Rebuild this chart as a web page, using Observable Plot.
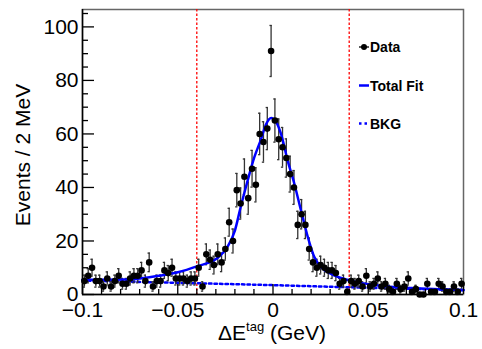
<!DOCTYPE html>
<html><head><meta charset="utf-8">
<script src="https://cdn.jsdelivr.net/npm/d3@7"></script>
<script src="https://cdn.jsdelivr.net/npm/@observablehq/plot@0.6"></script>
<style>body{margin:0;background:#fff} svg{display:block}</style>
</head><body><div id="chart"></div>
<script>
// Bin centres (2 MeV bins, GeV)
const binCenters = [
-0.099,-0.097,-0.095,-0.093,-0.091,-0.089,-0.087,-0.085,-0.083,-0.081,
-0.079,-0.077,-0.075,-0.073,-0.071,-0.069,-0.067,-0.065,-0.063,-0.061,
-0.059,-0.057,-0.055,-0.053,-0.051,-0.049,-0.047,-0.045,-0.043,-0.041,
-0.039,-0.037,-0.035,-0.033,-0.031,-0.029,-0.027,-0.025,-0.023,-0.021,
-0.019,-0.017,-0.015,-0.013,-0.011,-0.009,-0.007,-0.005,-0.003,-0.001,
0.001,0.003,0.005,0.007,0.009,0.011,0.013,0.015,0.017,0.019,
0.021,0.023,0.025,0.027,0.029,0.031,0.033,0.035,0.037,0.039,
0.041,0.043,0.045,0.047,0.049,0.051,0.053,0.055,0.057,0.059,
0.061,0.063,0.065,0.067,0.069,0.071,0.073,0.075,0.077,0.079,
0.081,0.083,0.085,0.087,0.089,0.091,0.093,0.095,0.097,0.099];
// Event counts per bin
const counts = [
5,7,10,5,5,3,6,3,5,7,
4,4,6,7,7,9,5,12,3,5,
5,9,8,10,6,6,6,5,6,6,
10,3,15,13,11,15,12,17,27,20,
39,34,44,36,47,41,60,57,62,91,
65,58,55,51,45,40,26,30,26,17,
12,10,11,10,9,9,8,4,5,1,
5,4,5,3,7,3,4,6,3,4,
2,1,4,2,3,6,1,2,0,0,
4,1,1,4,3,1,1,3,1,4];
// Total fit curve
const fitX = [-0.1,-0.0765,-0.059,-0.05,-0.04,-0.029,-0.024,-0.02,-0.017,-0.0133,-0.0098,-0.0063,-0.0037,-0.001,0.0016,0.0042,0.0077,0.0112,0.0147,0.0183,0.0217,0.0253,0.0305,0.0404,0.0551,0.0726,0.1];
const fitY = [5.5,5.6,7.1,8.3,10.5,13.7,17.7,23.9,32.6,42.6,51.3,58,63.5,66,64.5,60,50,41.4,31.4,21.4,14,10.2,7.7,5.2,3.4,2.4,1.7];
// Background curve
const bkgX = [-0.1,-0.04,0,0.04,0.1];
const bkgY = [5.2,4.2,3.5,2.7,1.6];
// Signal window
const windowX = [-0.04, 0.04];
// Tick values
const xMajor = [-0.1,-0.05,0,0.05,0.1];
const xMinor = [-0.09,-0.08,-0.07,-0.06,-0.04,-0.03,-0.02,-0.01,0.01,0.02,0.03,0.04,0.06,0.07,0.08,0.09];
const xLabels = ["\u22120.1","\u22120.05","0","0.05","0.1"];
const yMajor = [0,20,40,60,80,100];
const yMinor = [5,10,15,25,30,35,45,50,55,65,70,75,85,90,95,105];
// Legend entries
const legendLabels = ["Data","Total Fit","BKG"];

const data = binCenters.map((x,i)=>({x, n: counts[i], e: Math.sqrt(counts[i])}));
const fit = fitX.map((x,i)=>({x, y: fitY[i]}));
const bkg = bkgX.map((x,i)=>({x, y: bkgY[i]}));
const errs = data.filter(d=>d.n>0);

const font = "Liberation Sans, Arial, Helvetica, sans-serif";
const plot = Plot.plot({
  width: 482, height: 349,
  marginLeft: 82, marginRight: 19, marginTop: 9, marginBottom: 55,
  style: {fontFamily: font, background: "#fff"},
  x: {domain: [-0.1, 0.1], label: null},
  y: {domain: [0, 106.5], label: null},
  marks: [
    Plot.frame({stroke: "#666", strokeWidth: 1.5}),
    Plot.ruleX(windowX, {stroke: "#ff0000", strokeWidth: 1.3, strokeDasharray: "2.5,2"}),
    Plot.line(bkg, {x: "x", y: "y", stroke: "#0000ff", strokeWidth: 2.5, strokeDasharray: "2.5,3"}),
    Plot.ruleX(errs, {x: "x", y1: d=>d.n-d.e, y2: d=>d.n+d.e, stroke: "#333", strokeWidth: 1.3}),
    Plot.ruleY(errs, {y: d=>d.n+d.e, x1: d=>d.x-0.0006, x2: d=>d.x+0.0006, stroke: "#333", strokeWidth: 1.3}),
    Plot.ruleY(errs, {y: d=>d.n-d.e, x1: d=>d.x-0.0006, x2: d=>d.x+0.0006, stroke: "#333", strokeWidth: 1.3}),
    Plot.line(fit, {x: "x", y: "y", stroke: "#0000ff", strokeWidth: 2.5, curve: "monotone-x"}),
    Plot.dot(data, {x: "x", y: "n", r: 3.3, fill: "#000"}),
    Plot.axisY({ticks: yMajor, tickSize: -12, text: null, label: null, stroke: "#000", strokeWidth: 1.3}),
    Plot.axisY({ticks: yMinor, tickSize: -6, text: null, label: null, stroke: "#000", strokeWidth: 1.3}),
    Plot.axisY({ticks: yMajor, tickSize: 0, tickPadding: 4, fontSize: 21, fill: "#000", label: null}),
    Plot.axisX({ticks: xMajor, tickSize: -10, text: null, label: null, stroke: "#000", strokeWidth: 1.3}),
    Plot.axisX({ticks: xMinor, tickSize: -5, text: null, label: null, stroke: "#000", strokeWidth: 1.3}),
    Plot.axisX({ticks: xMajor, tickSize: 0, tickPadding: 8, fontSize: 21, fill: "#000", label: null, tickFormat: (d,i)=>xLabels[i]}),
    Plot.ruleY([0], {stroke: "#000", strokeWidth: 1.5}),
    Plot.ruleX([-0.1], {stroke: "#000", strokeWidth: 1.5})
  ]
});
const svg = d3.select(plot);
// Axis titles
svg.append("text").attr("transform","translate(30,155) rotate(-90)").attr("text-anchor","middle")
  .attr("font-family",font).attr("font-size",21).attr("fill","#000").text("Events / 2 MeV");
const xt = svg.append("text").attr("x",272).attr("y",340).attr("text-anchor","middle")
  .attr("font-family",font).attr("font-size",21).attr("fill","#000");
xt.append("tspan").text("\u0394E");
xt.append("tspan").attr("font-size",13).attr("dy",-9).text("tag");
xt.append("tspan").attr("dy",9).text(" (GeV)");
// Legend
const lg = svg.append("g").attr("font-family",font).attr("font-weight","bold").attr("font-size",14)
  .attr("fill","#000").attr("text-anchor","start");
lg.append("line").attr("x1",359).attr("x2",369).attr("y1",47).attr("y2",47).attr("stroke","#000").attr("stroke-width",1.3);
lg.append("circle").attr("cx",364).attr("cy",47).attr("r",3).attr("fill","#000");
lg.append("text").attr("x",370).attr("y",52).text(legendLabels[0]);
lg.append("line").attr("x1",359).attr("x2",369).attr("y1",85.5).attr("y2",85.5).attr("stroke","#0000ff").attr("stroke-width",2.5);
lg.append("text").attr("x",370).attr("y",90.5).text(legendLabels[1]);
lg.append("line").attr("x1",359).attr("x2",369).attr("y1",123.5).attr("y2",123.5).attr("stroke","#0000ff").attr("stroke-width",2.5).attr("stroke-dasharray","2.5,3");
lg.append("text").attr("x",370).attr("y",128.5).text(legendLabels[2]);
document.getElementById("chart").appendChild(plot);
</script></body></html>
